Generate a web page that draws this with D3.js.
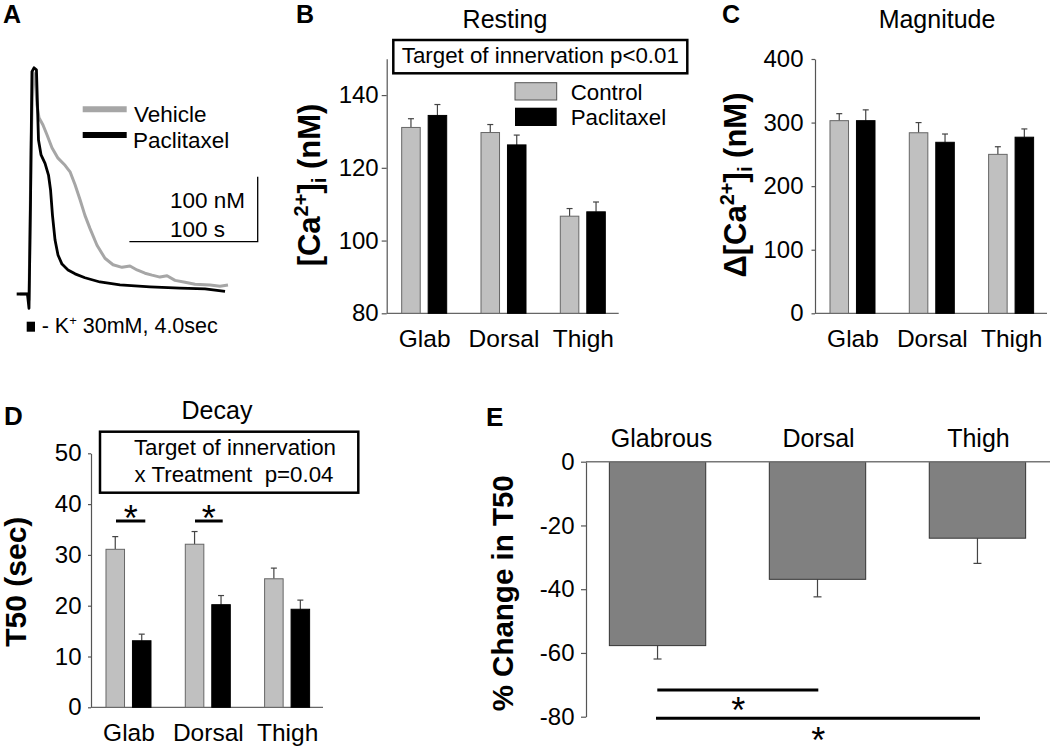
<!DOCTYPE html>
<html><head><meta charset="utf-8">
<script src="https://cdn.jsdelivr.net/npm/d3@7"></script>
<style>html,body{margin:0;padding:0;background:#fff;}svg{display:block;}</style>
</head><body>
<svg id="chart" width="1050" height="746"></svg>
<script>
// ---------------- DATA ----------------
const categories = ["Glab", "Dorsal", "Thigh"];
const seriesNames = ["Control", "Paclitaxel"];

// Panel B: resting [Ca2+]i (nM)
const restControl = [131.1, 129.7, 106.7];
const restControlErr = [2.4, 2.2, 2.1];
const restPaclitaxel = [134.4, 126.3, 107.9];
const restPaclitaxelErr = [3.0, 2.7, 2.7];
const restTicks = [80, 100, 120, 140];

// Panel C: magnitude Δ[Ca2+]i (nM)
const magControl = [303, 284, 250];
const magControlErr = [11, 16, 12];
const magPaclitaxel = [303, 269, 277];
const magPaclitaxelErr = [17, 13, 13];
const magTicks = [0, 100, 200, 300, 400];

// Panel D: decay T50 (sec)
const decayControl = [31.1, 32.1, 25.3];
const decayControlErr = [2.5, 2.5, 2.1];
const decayPaclitaxel = [13.1, 20.2, 19.3];
const decayPaclitaxelErr = [1.3, 1.8, 1.8];
const decayTicks = [0, 10, 20, 30, 40, 50];

// Panel E: % change in T50
const pctCategories = ["Glabrous", "Dorsal", "Thigh"];
const pctChange = [-57.7, -36.9, -24.0];
const pctErr = [4.2, 5.5, 7.9];
const pctTicks = [0, -20, -40, -60, -80];

// Panel A: example traces (time s, Δ[Ca2+] nM above baseline)
const vehicleTime = [-7, -1, 0, 1.6, 3.1, 4.7, 6.2, 7.8, 10.9, 14, 17.9, 22.6, 28.1, 32, 35.9, 39.8, 43.6, 47.5, 53, 59.2, 65.5, 72.5, 78.7, 84.2, 90.4, 95.9, 102.1, 107.6, 113.8, 121.6, 129.4, 141.1, 148.9, 155.1];
const vehicleCa = [0, 0, -9, 221, 341, 337, 291, 271, 260, 245, 225, 209, 198, 188, 168, 145, 121, 101, 75, 55, 45, 41, 43, 37, 32, 29, 26, 28, 21, 18, 15, 14, 12, 14];
const paclitaxelTime = [-9.6, -1.2, 0, 1.2, 2.3, 3.9, 5.8, 7.4, 9.4, 12.5, 15.2, 16.8, 18.3, 20.3, 22.6, 25.7, 30.4, 35.9, 43.6, 55.3, 70.9, 94.3, 117.7, 137.2, 152.8];
const paclitaxelCa = [0, 0, -22, 145, 342, 348, 345, 237, 214, 201, 183, 160, 121, 83, 60, 46, 37, 31, 25, 18.5, 14, 11, 9, 8, 4];

// ---------------- DRAW ----------------
const FONT = "'Liberation Sans', Arial, Helvetica, sans-serif";
const svg = d3.select("#chart").attr("font-family", FONT);
svg.append("rect").attr("width", 1050).attr("height", 746).attr("fill", "#fff");

const GRAY_BAR = "#c0c0c0", AXIS = "#555";

function txt(x, y, s, size, opts = {}) {
  const t = svg.append("text").attr("x", x).attr("y", y).attr("font-size", size)
    .attr("text-anchor", opts.anchor || "start").attr("fill", "#000").text(s);
  if (opts.bold) t.attr("font-weight", "bold");
  if (opts.pre) t.style("white-space", "pre");
  return t;
}

// panel letters
txt(3, 23, "A", 25, {bold: true});
txt(296, 23, "B", 25, {bold: true});
txt(722, 23, "C", 25, {bold: true});
txt(4, 425, "D", 26, {bold: true});
txt(486, 426, "E", 26, {bold: true});

// ---------- Panel A ----------
const xA = d3.scaleLinear().domain([0, 100]).range([29, 157.3]);
const yA = d3.scaleLinear().domain([0, 100]).range([294, 229]);
const lineA = d3.line().x(d => xA(d[0])).y(d => yA(d[1]));
svg.append("path").attr("d", lineA(d3.zip(vehicleTime, vehicleCa)))
  .attr("fill", "none").attr("stroke", "#a6a6a6").attr("stroke-width", 3).attr("stroke-linejoin", "round");
svg.append("path").attr("d", lineA(d3.zip(paclitaxelTime, paclitaxelCa)))
  .attr("fill", "none").attr("stroke", "#000").attr("stroke-width", 2.8).attr("stroke-linejoin", "round");
// legend
svg.append("line").attr("x1", 82.7).attr("x2", 126.7).attr("y1", 109.3).attr("y2", 109.3).attr("stroke", "#a6a6a6").attr("stroke-width", 6);
svg.append("line").attr("x1", 82.7).attr("x2", 126.7).attr("y1", 135).attr("y2", 135).attr("stroke", "#000").attr("stroke-width", 6);
txt(134, 121.5, "Vehicle", 22.5);
txt(133, 148, "Paclitaxel", 22.5);
// scale bar
const sbX = 257.7, sbY = 241.7;
const sbW = xA(100) - xA(0), sbH = yA(0) - yA(100);
svg.append("path").attr("d", `M${sbX - sbW},${sbY}H${sbX}V${sbY - sbH}`)
  .attr("fill", "none").attr("stroke", "#000").attr("stroke-width", 1.3);
txt(170, 208.3, "100 nM", 22.5);
txt(170, 236.5, "100 s", 22.5);
// stimulus marker
svg.append("rect").attr("x", 26.7).attr("y", 321.7).attr("width", 8.3).attr("height", 10).attr("fill", "#000");
const stim = txt(41.7, 333.3, "", 21.5).style("white-space", "pre");
stim.append("tspan").text("- K");
stim.append("tspan").attr("font-size", 13).attr("dy", -8).text("+");
stim.append("tspan").attr("dy", 8).text(" 30mM, 4.0sec");

// ---------- grouped bar panels ----------
function styleAxis(g, size) {
  g.attr("font-family", FONT).attr("font-size", size).attr("color", AXIS);
  g.select(".domain").attr("stroke-width", 1.2);
  g.selectAll(".tick line").attr("stroke-width", 1.2);
  g.selectAll("text").attr("fill", "#000");
}

function groupedPanel(cfg) {
  const y = d3.scaleLinear().domain(cfg.domain).range([cfg.yBottom, cfg.yTop]);
  const xg = d3.scaleBand().domain(categories).range([cfg.x0, cfg.x0 + 233.6])
    .paddingInner(0.4325).paddingOuter(0.189);
  const xs = d3.scaleBand().domain(seriesNames).range([0, xg.bandwidth()]).paddingInner(0.3);

  const ga = svg.append("g").attr("transform", `translate(${cfg.x0},0)`)
    .call(d3.axisLeft(y).tickValues(cfg.ticks).tickSize(cfg.tickSize).tickSizeOuter(0)
      .tickPadding(cfg.pad).tickFormat(d => String(d)));
  styleAxis(ga, 24);
  svg.append("line").attr("x1", cfg.x0).attr("x2", cfg.x0 + 232).attr("y1", cfg.yBottom).attr("y2", cfg.yBottom)
    .attr("stroke", "#666").attr("stroke-width", 1.3);
  const gx = svg.append("g").attr("transform", `translate(0,${cfg.yBottom})`)
    .call(d3.axisBottom(d3.scalePoint().domain(categories).range([xg(categories[0]) + xg.bandwidth() / 2, xg(categories[2]) + xg.bandwidth() / 2]))
      .tickSize(0).tickPadding(16));
  gx.select(".domain").remove();
  gx.attr("font-family", FONT).attr("font-size", 24.5);
  gx.selectAll("text").attr("fill", "#000");

  const series = [
    {name: "Control", vals: cfg.ctrl, errs: cfg.ctrlErr, fill: GRAY_BAR, stroke: "#666"},
    {name: "Paclitaxel", vals: cfg.pac, errs: cfg.pacErr, fill: "#000", stroke: "#000"}
  ];
  series.forEach(s => {
    categories.forEach((c, i) => {
      const bx = xg(c) + xs(s.name), bw = xs.bandwidth();
      const cx = bx + bw / 2;
      const top = y(s.vals[i]), et = y(s.vals[i] + s.errs[i]);
      svg.append("line").attr("x1", cx).attr("x2", cx).attr("y1", top).attr("y2", et).attr("stroke", "#444").attr("stroke-width", 1.2);
      svg.append("line").attr("x1", cx - 3).attr("x2", cx + 3).attr("y1", et).attr("y2", et).attr("stroke", "#444").attr("stroke-width", 1.2);
      svg.append("rect").attr("x", bx).attr("y", top).attr("width", bw).attr("height", cfg.yBottom - top)
        .attr("fill", s.fill).attr("stroke", s.stroke).attr("stroke-width", 1);
    });
  });
  return {xg, xs, y};
}

// Panel B
groupedPanel({x0: 386.7, yBottom: 313.3, yTop: 58.7, domain: [80, 150], ticks: restTicks, tickSize: 5, pad: 3,
  ctrl: restControl, ctrlErr: restControlErr, pac: restPaclitaxel, pacErr: restPaclitaxelErr});
txt(505, 27.5, "Resting", 25, {anchor: "middle"});
svg.append("rect").attr("x", 393.3).attr("y", 40).attr("width", 294).attr("height", 33.3)
  .attr("fill", "#fff").attr("stroke", "#000").attr("stroke-width", 2.5);
txt(540.3, 63.3, "Target of innervation p<0.01", 22.3, {anchor: "middle"});
svg.append("rect").attr("x", 515).attr("y", 82.7).attr("width", 41.7).attr("height", 17.3).attr("fill", GRAY_BAR).attr("stroke", "#555");
svg.append("rect").attr("x", 515).attr("y", 107.7).attr("width", 41.7).attr("height", 18.3).attr("fill", "#000");
txt(570.7, 100, seriesNames[0], 22.3);
txt(570.7, 125, seriesNames[1], 22.3);

function caLabel(cx, cy, delta) {
  const t = svg.append("text").attr("transform", `translate(${cx},${cy}) rotate(-90)`)
    .attr("text-anchor", "middle").attr("dy", "0.36em").attr("font-size", 31).attr("font-weight", "bold").attr("fill", "#000");
  t.append("tspan").text((delta ? "Δ" : "") + "[Ca");
  t.append("tspan").attr("font-size", 20).attr("dy", -12).text("2+");
  t.append("tspan").attr("dy", 12).text("]");
  t.append("tspan").attr("font-size", 20).attr("dy", 6).text("i");
  t.append("tspan").attr("dy", -6).text(" (nM)");
}
caLabel(309, 185, false);

// Panel C
groupedPanel({x0: 815, yBottom: 313.3, yTop: 59, domain: [0, 400], ticks: magTicks, tickSize: 3.5, pad: 8,
  ctrl: magControl, ctrlErr: magControlErr, pac: magPaclitaxel, pacErr: magPaclitaxelErr});
txt(937, 27.5, "Magnitude", 25, {anchor: "middle"});
caLabel(735, 185, true);

// Panel D
groupedPanel({x0: 91, yBottom: 707.3, yTop: 453.3, domain: [0, 50], ticks: decayTicks, tickSize: 3, pad: 6.5,
  ctrl: decayControl, ctrlErr: decayControlErr, pac: decayPaclitaxel, pacErr: decayPaclitaxelErr});
txt(217, 419, "Decay", 25, {anchor: "middle"});
svg.append("rect").attr("x", 100).attr("y", 431.7).attr("width", 258.3).attr("height", 61)
  .attr("fill", "#fff").attr("stroke", "#000").attr("stroke-width", 2.5);
txt(235, 455, "Target of innervation", 22.3, {anchor: "middle"});
txt(234, 481.7, "x Treatment  p=0.04", 22.3, {anchor: "middle", pre: true});
svg.append("text").attr("transform", "translate(15,581.7) rotate(-90)").attr("text-anchor", "middle").attr("dy", "0.36em")
  .attr("font-size", 30).attr("font-weight", "bold").attr("fill", "#000").text("T50 (sec)");
[[116, 145.3], [195, 222.7]].forEach(([a, b]) => {
  svg.append("line").attr("x1", a).attr("x2", b).attr("y1", 521).attr("y2", 521).attr("stroke", "#000").attr("stroke-width", 3);
  txt((a + b) / 2, 531, "*", 36, {anchor: "middle"});
});

// Panel E
const yE = d3.scaleLinear().domain([0, -80]).range([461.7, 716.7]);
const xE = d3.scaleBand().domain(pctCategories).range([586, 1049]).paddingInner(0.3975).paddingOuter(0.146);
const gE = svg.append("g").attr("transform", "translate(586,0)")
  .call(d3.axisLeft(yE).tickValues(pctTicks).tickSize(5).tickSizeOuter(0).tickPadding(6.5).tickFormat(d => String(d)));
styleAxis(gE, 24);
pctCategories.forEach((c, i) => {
  const bx = xE(c), bw = xE.bandwidth(), cx = bx + bw / 2;
  const bot = yE(pctChange[i]), eb = yE(pctChange[i] - pctErr[i]);
  svg.append("line").attr("x1", cx).attr("x2", cx).attr("y1", bot).attr("y2", eb).attr("stroke", "#444").attr("stroke-width", 1.2);
  svg.append("line").attr("x1", cx - 4).attr("x2", cx + 4).attr("y1", eb).attr("y2", eb).attr("stroke", "#444").attr("stroke-width", 1.2);
  svg.append("rect").attr("x", bx).attr("y", yE(0)).attr("width", bw).attr("height", bot - yE(0))
    .attr("fill", "#808080").attr("stroke", "#333").attr("stroke-width", 1);
  txt(cx + (i === 0 ? 4 : 1), 446.7, c, 25, {anchor: "middle"});
});
svg.append("line").attr("x1", 586).attr("x2", 1050).attr("y1", yE(0)).attr("y2", yE(0)).attr("stroke", "#777").attr("stroke-width", 1.5);
svg.append("text").attr("transform", "translate(502,593.3) rotate(-90)").attr("text-anchor", "middle").attr("dy", "0.36em")
  .attr("font-size", 29.5).attr("font-weight", "bold").attr("fill", "#000").text("% Change in T50");
svg.append("line").attr("x1", 657.3).attr("x2", 818.3).attr("y1", 690).attr("y2", 690).attr("stroke", "#000").attr("stroke-width", 3);
txt(738.3, 723, "*", 36, {anchor: "middle"});
svg.append("line").attr("x1", 656).attr("x2", 980).attr("y1", 718.3).attr("y2", 718.3).attr("stroke", "#000").attr("stroke-width", 3);
txt(818.3, 752.5, "*", 36, {anchor: "middle"});
</script>
</body></html>
